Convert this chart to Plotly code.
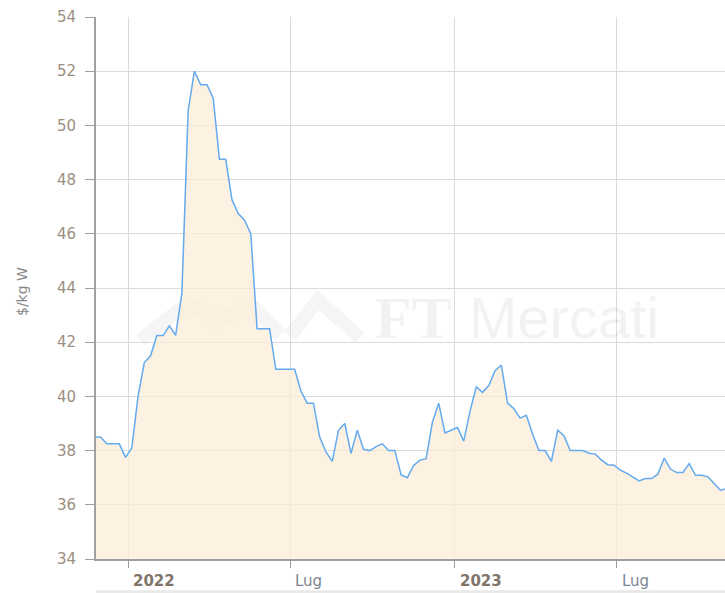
import pandas as pd
import plotly.graph_objects as go

# prezzo settimanale moduli ($/kg W)
prices = [
    38.5, 38.5, 38.25, 38.25, 38.25, 37.75, 38.1, 40.0, 41.25, 41.5,
    42.25, 42.25, 42.6, 42.25, 43.8, 50.55, 52.0, 51.5, 51.5, 51.0,
    48.75, 48.75, 47.25, 46.75, 46.5, 46.0, 42.5, 42.5, 42.5, 41.0,
    41.0, 41.0, 41.0, 40.2, 39.75, 39.75, 38.5, 37.95, 37.6, 38.75,
    39.0, 37.9, 38.75, 38.05, 38.0, 38.15, 38.25, 38.0, 38.0, 37.1,
    37.0, 37.45, 37.65, 37.7, 39.05, 39.75, 38.65, 38.75, 38.85, 38.35,
    39.45, 40.35, 40.15, 40.4, 40.95, 41.15, 39.75, 39.55, 39.2, 39.3,
    38.6, 38.0, 38.0, 37.6, 38.75, 38.55, 38.0, 38.0, 38.0, 37.9,
    37.87, 37.65, 37.48, 37.46, 37.28, 37.17, 37.03, 36.88, 36.97, 36.97,
    37.13, 37.72, 37.32, 37.19, 37.19, 37.52, 37.09, 37.09, 37.03, 36.78,
    36.54, 36.6,
]
dates = pd.date_range(start="2021-11-24", periods=len(prices), freq="7D")

tick_dates = ["2022-01-01", "2022-07-01", "2023-01-01", "2023-07-01"]
tick_labels = ["<b>2022</b>", "Lug", "<b>2023</b>", "Lug"]
tick_colors = ["#7f746a", "#7d8690", "#7f746a", "#7d8690"]

FONT = "DejaVu Sans"
WM = "rgba(0,0,0,0.05)"

fig = go.Figure()
fig.add_trace(go.Scatter(
    x=dates, y=prices, mode="lines", fill="tozeroy",
    line=dict(color="#63aaee", width=1.5),
    fillcolor="rgba(252,238,216,0.75)",
    hoverinfo="x+y", showlegend=False,
))

annotations = []
for d, t, c in zip(tick_dates, tick_labels, tick_colors):
    annotations.append(dict(
        x=d, y=-0.04, xref="x", yref="paper", text=t, showarrow=False,
        xanchor="left", yanchor="middle", xshift=3,
        font=dict(family=FONT, size=15, color=c),
    ))

# titolo asse y
annotations.append(dict(
    x=-0.118, y=0.494, xref="paper", yref="paper", text="$/kg W",
    textangle=-90, showarrow=False, xanchor="center", yanchor="middle",
    font=dict(family=FONT, size=14, color="#888888"),
))

# filigrana
annotations.append(dict(
    x=0.44, y=0.445, xref="paper", yref="paper", text="<b>FT</b>",
    showarrow=False, xanchor="left", yanchor="middle",
    font=dict(family="Liberation Serif", size=60, color=WM),
))
annotations.append(dict(
    x=0.59, y=0.445, xref="paper", yref="paper", text="Mercati",
    showarrow=False, xanchor="left", yanchor="middle",
    font=dict(family="Liberation Sans", size=58, color=WM),
))

shapes = [
    dict(type="path", xref="paper", yref="paper", layer="below",
         path="M 0.07 0.404 L 0.146 0.472 L 0.194 0.437 L 0.245 0.472 L 0.293 0.413",
         line=dict(color="rgba(0,0,0,0.04)", width=14)),
    dict(type="path", xref="paper", yref="paper", layer="below",
         path="M 0.308 0.411 L 0.353 0.478 L 0.42 0.408",
         line=dict(color="rgba(0,0,0,0.04)", width=14)),
    dict(type="rect", xref="paper", yref="paper", x0=0, x1=1, y0=-0.0575, y1=-0.075,
         fillcolor="#e9e9e9", line=dict(width=0), layer="below"),
]

fig.update_layout(
    width=725, height=593,
    margin=dict(l=96, r=0, t=17, b=34),
    paper_bgcolor="white", plot_bgcolor="white",
    font=dict(family=FONT),
    annotations=annotations,
    shapes=shapes,
    xaxis=dict(
        type="date", range=["2021-11-26", "2023-10-30"],
        tickvals=tick_dates, showticklabels=False,
        showgrid=True, gridcolor="#dadada", gridwidth=1,
        ticks="outside", ticklen=7, tickcolor="#9a9a9a",
        showline=True, linecolor="#a0a0a0", linewidth=2,
        zeroline=False,
    ),
    yaxis=dict(
        range=[34, 54], dtick=2, tick0=34,
        showgrid=True, gridcolor="#dadada", gridwidth=1,
        ticks="outside", ticklen=9, tickcolor="#a0a0a0",
        showline=True, linecolor="#a0a0a0", linewidth=2,
        tickfont=dict(family=FONT, size=15, color="#9c8e80"),
        ticklabelstandoff=6,
        zeroline=False,
    ),
)

# niente margine della pagina: la figura occupa tutta la finestra
fig.write_html(
    "out.html",
    config={"displayModeBar": False},
    post_script="document.body.style.margin='0';document.body.style.overflow='hidden';",
)
